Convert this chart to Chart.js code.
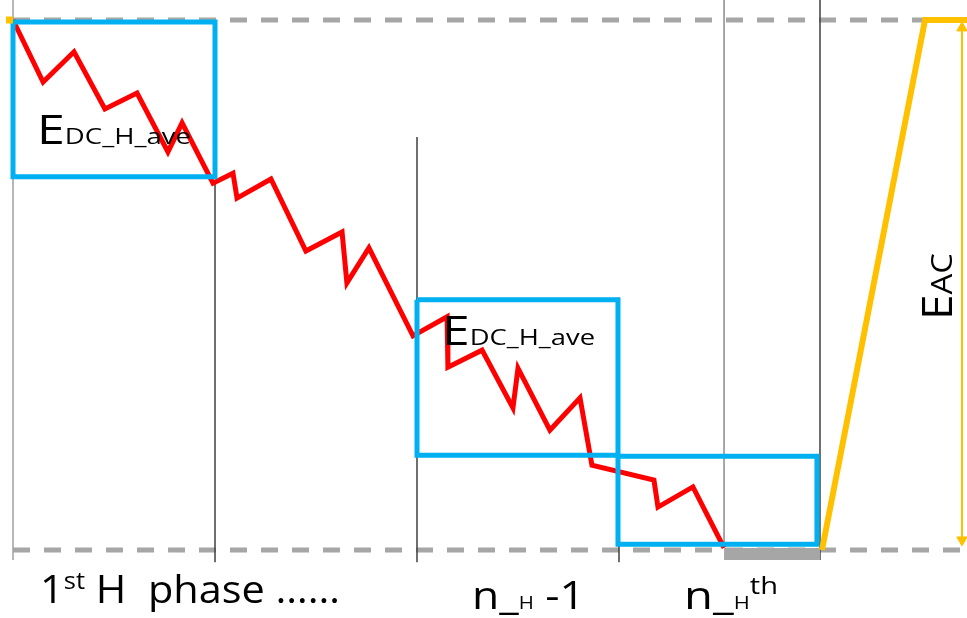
<!DOCTYPE html>
<html>
<head>
<meta charset="utf-8">
<script src="https://cdn.jsdelivr.net/npm/chart.js@4/dist/chart.umd.min.js"></script>
<style>
  html, body { margin: 0; padding: 0; background: #fff; }
  #wrap { width: 967px; height: 618px; }
</style>
</head>
<body>
<div id="wrap"><canvas id="chart" width="967" height="618"></canvas></div>
<script>
// x: phase index (1 unit = one H phase), y: energy (0 = empty, 1 = full)

// red DC energy trace
const redX = [0, 0.149, 0.302, 0.455, 0.614, 0.767, 0.837, 0.990, 1.089, 1.109, 1.277, 1.450, 1.629, 1.653, 1.762,
              1.980, 2.149, 2.153, 2.322, 2.475, 2.500, 2.658, 2.807, 2.866, 3.173, 3.193, 3.366, 3.520];
const redY = [1.0, 0.883, 0.940, 0.832, 0.862, 0.751, 0.806, 0.692, 0.711, 0.664, 0.700, 0.564, 0.600, 0.504, 0.570,
              0.404, 0.440, 0.345, 0.377, 0.268, 0.343, 0.226, 0.287, 0.160, 0.132, 0.081, 0.119, 0.004];

// orange AC recharge
const orangeX = [4.005, 4.515, 4.723];
const orangeY = [0, 1, 1];
const orangeStubX = [-0.035, 0];
const orangeStubY = [1, 1];
const arrowX = [4.698, 4.698];
const arrowY = [0.985, 0.019];

// blue averaging boxes [x0, x1, y0, y1]
const boxes = [
  [0, 1.0, 0.704, 0.996],
  [2.0, 2.995, 0.179, 0.472],
  [2.995, 3.980, 0.011, 0.177]
];

// phase boundary lines [x, yTop, yBottom, colour]
const phaseLines = [
  [0, 1.038, -0.019, '#a0a0a0'],
  [1, 0.698, -0.023, '#404040'],
  [2, 0.779, -0.023, '#404040'],
  [3, 0.177, -0.023, '#404040'],
  [3.52, 1.038, 0.004, '#8c8c8c'],
  [3.995, 1.038, -0.019, '#404040']
];

// gray idle block
const idleX = [3.52, 3.995];
const idleY = [0.004, 0.004];
const idleBase = -0.019;

// reference levels
const levels = [0, 1];
const levelX = [0, 4.723];

// text runs: [text, px size, raise]
const boxLabel = [['E', 40, 0], ['DC_H_ave', 22, 0]];
const firstLabel = [['1', 39, 0], ['st', 24, 14], [' H  phase ……', 39, 0]];
const nm1Label = [['n_', 39, 0], ['H', 18, 0], [' -1', 39, 0]];
const nthLabel = [['n_', 39, 0], ['H', 18, 0], ['th', 24, 15]];
const eacLabel = [['E', 42, 0], ['AC', 30, 0]];

// where the texts go: [runs, x, y, width, rotated]
const texts = [
  [boxLabel, 0.119, 0.766, 154, false],
  [boxLabel, 2.124, 0.387, 153, false],
  [firstLabel, 0.134, -0.100, 300, false],
  [nm1Label, 2.272, -0.111, 113, false],
  [nthLabel, 3.322, -0.111, 94, false],
  [eacLabel, 4.649, 0.434, 67, true]
];

const pts = (xs, ys) => xs.map((x, i) => ({ x, y: ys[i] }));

const datasets = [];
// orange on top
datasets.push({ data: pts(orangeX, orangeY), borderColor: '#FFC000', borderWidth: 6, order: 1 });
datasets.push({ data: pts(orangeStubX, orangeStubY), borderColor: '#FFC000', borderWidth: 7, order: 1 });
datasets.push({ data: pts(arrowX, arrowY), borderColor: '#FFC000', borderWidth: 2, order: 1,
  pointStyle: 'triangle', pointRadius: 6, pointRotation: [0, 180],
  pointBackgroundColor: '#FFC000', pointBorderColor: '#FFC000', pointBorderWidth: 1 });
boxes.forEach(b => {
  datasets.push({
    data: pts([b[0], b[1], b[1], b[0], b[0]], [b[3], b[3], b[2], b[2], b[3]]),
    borderColor: '#00B0F0', borderWidth: 5, borderJoinStyle: 'miter', order: 2
  });
});
datasets.push({ data: pts(redX, redY), borderColor: '#FF0000', borderWidth: 5, borderJoinStyle: 'miter', order: 3 });
datasets.push({ data: pts(idleX, idleY), borderWidth: 0, borderColor: 'rgba(0,0,0,0)',
  backgroundColor: '#a6a6a6', fill: { value: idleBase }, order: 4 });
phaseLines.forEach(l => {
  datasets.push({ data: pts([l[0], l[0]], [l[1], l[2]]), borderColor: l[3], borderWidth: 1.5, order: 5 });
});
levels.forEach(v => {
  datasets.push({ data: pts(levelX, [v, v]), borderColor: '#a6a6a6', borderWidth: 5,
    borderDash: [17, 14], order: 6 });
});

const textPlugin = {
  id: 'diagramText',
  afterDatasetsDraw(chart) {
    const ctx = chart.ctx;
    const sx = chart.scales.x, sy = chart.scales.y;
    const fam = '"Open Sans", "DejaVu Sans", sans-serif';
    texts.forEach(([runs, x, y, width, rot]) => {
      ctx.save();
      ctx.translate(sx.getPixelForValue(x), sy.getPixelForValue(y));
      if (rot) ctx.rotate(-Math.PI / 2);
      let natural = 0;
      runs.forEach(r => { ctx.font = r[1] + 'px ' + fam; natural += ctx.measureText(r[0]).width; });
      ctx.scale(width / natural, 1);
      ctx.fillStyle = '#000';
      ctx.textBaseline = 'alphabetic';
      let cx = 0;
      runs.forEach(r => {
        ctx.font = r[1] + 'px ' + fam;
        ctx.fillText(r[0], cx, -r[2]);
        cx += ctx.measureText(r[0]).width;
      });
      ctx.restore();
    });
  }
};

new Chart(document.getElementById('chart').getContext('2d'), {
  type: 'line',
  data: { datasets },
  options: {
    responsive: false,
    animation: false,
    layout: { padding: 0, autoPadding: false },
    elements: { point: { radius: 0 }, line: { tension: 0, fill: false } },
    plugins: { legend: { display: false }, tooltip: { enabled: false } },
    scales: {
      x: { type: 'linear', display: false, min: -0.0644, max: 4.7228 },
      y: { type: 'linear', display: false, min: -0.1283, max: 1.0377 }
    }
  },
  plugins: [textPlugin]
});
</script>
</body>
</html>
